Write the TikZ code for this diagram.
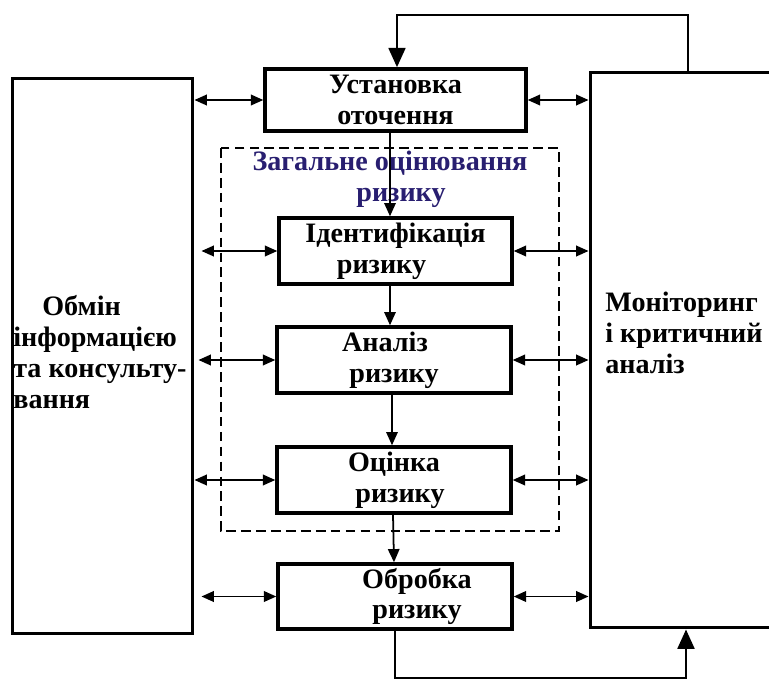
\documentclass[tikz,border=0pt]{standalone}
\usepackage{fontspec}
\setmainfont{Liberation Serif}
\usetikzlibrary{arrows.meta}
\definecolor{titleblue}{RGB}{40,30,112}

\tikzset{
  stage/.style={draw, line width=2pt, align=center, inner sep=0pt,
    font=\bfseries\fontsize{16}{17.5}\selectfont},
  sidebox/.style={draw, line width=1.7pt, inner sep=0pt},
  sidetext/.style={align=left, inner sep=0pt, anchor=west,
    font=\bfseries\fontsize{16}{17.8}\selectfont},
  dbl/.style={{Triangle[length=7pt,width=6pt]}-{Triangle[length=7pt,width=6pt]}, line width=1pt},
  flow/.style={-{Triangle[length=7.5pt,width=6.5pt]}, line width=1pt},
  backline/.style={-{Triangle[length=11pt,width=9.5pt]}, line width=1.6pt},
  dashframe/.style={line width=1.1pt, dash pattern=on 5.5pt off 3pt}
}

\begin{document}
\begin{tikzpicture}[x=0.02cm,y=-0.02cm]

\useasboundingbox (0,0) rectangle (769,680);

%side boxes
\node [sidebox, minimum width=3.62cm, minimum height=11.12cm] (info) at (102.5,356) {};
\node [sidebox, minimum width=4.2cm, minimum height=11.12cm] (mon) at (695,350) {};

%side texts
\node [sidetext] (infotext) at (13,352) {\hspace*{0.58cm}Обмін\\інформацією\\та консульту-\\вання};
\node [sidetext] (montext) at (605,333) {Моніторинг\\і критичний\\аналіз};

%general assessment frame
\draw [dashframe] (221,148) rectangle (559,531);
\node [align=center, inner sep=0pt, text=titleblue,
  font=\bfseries\fontsize{16}{17.5}\selectfont] (title) at (390,179) {Загальне оцінювання\\\hspace*{0.44cm}ризику};

%stages
\node [stage, minimum width=5.22cm, minimum height=1.24cm] (setup) at (395.5,100) {Установка\\оточення};
\node [stage, minimum width=4.66cm, minimum height=1.32cm] (ident) at (395.5,251) {Ідентифікація\\\hspace*{-0.56cm}ризику};
\node [stage, minimum width=4.68cm, minimum height=1.32cm] (anal) at (394,360) {\hspace*{-0.36cm}Аналіз\\ризику};
\node [stage, minimum width=4.68cm, minimum height=1.32cm] (eval) at (394,480) {Оцінка\\\hspace*{0.24cm}ризику};
\node [stage, minimum width=4.68cm, minimum height=1.30cm] (treat) at (395,596.5) {\hspace*{0.88cm}Обробка\\\hspace*{0.88cm}ризику};

%stage to stage
\coordinate (sp) at (390,0);
\draw [flow] (setup.south -| sp) -- (ident.north -| sp);
\draw [flow] (ident.south -| sp) -- (anal.north -| sp);
\draw [flow] ([xshift=-0.04cm]anal.south) -- ([xshift=-0.04cm]eval.north);
\draw [flow] ([xshift=-0.02cm]eval.south) -- ([xshift=-0.02cm]treat.north);

%exchange arrows
\draw [dbl] (info.east |- setup.west) -- (setup.west);
\draw [dbl, shorten <=0.14cm] (info.east |- ident.west) -- (ident.west);
\draw [dbl, shorten <=0.08cm] (info.east |- anal.west) -- (anal.west);
\draw [dbl] (info.east |- eval.west) -- (eval.west);
\draw [dbl, shorten <=0.14cm] (info.east |- treat.west) -- (treat.west);

%monitoring arrows
\draw [dbl] (setup.east) -- (mon.west |- setup.east);
\draw [dbl] (ident.east) -- (mon.west |- ident.east);
\draw [dbl] (anal.east) -- (mon.west |- anal.east);
\draw [dbl] (eval.east) -- (mon.west |- eval.east);
\draw [dbl] (treat.east) -- (mon.west |- treat.east);

%feedback loops
\coordinate (tr) at (688,15);
\coordinate (tl) at (397,15);
\draw [backline] (tr |- mon.north) -- (tr) -- (tl) -- (tl |- setup.north);

\coordinate (bl) at (395,678);
\coordinate (br) at (686,678);
\draw [backline] (treat.south) -- (treat.south |- bl) -- (br) -- (br |- mon.south);

\end{tikzpicture}
\end{document}
